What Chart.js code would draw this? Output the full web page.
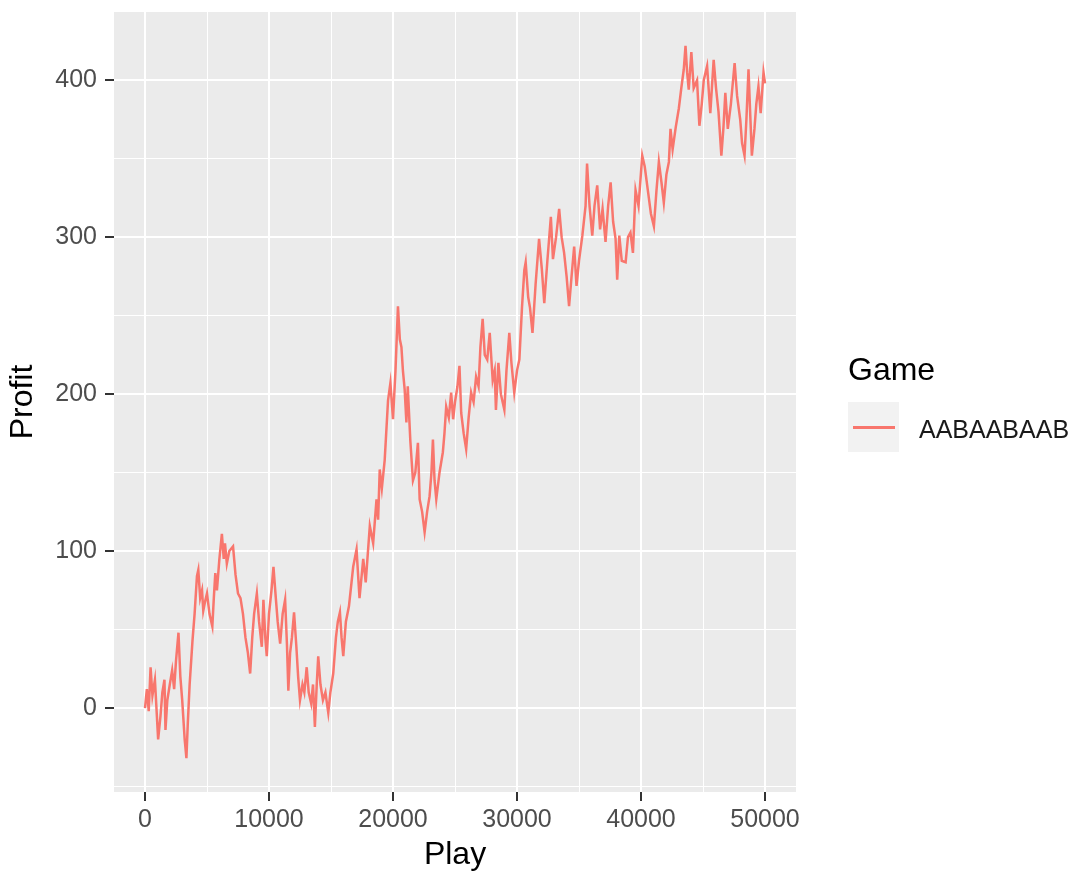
<!DOCTYPE html>
<html>
<head>
<meta charset="utf-8">
<script src="https://cdn.jsdelivr.net/npm/chart.js@4"></script>
<style>
  html, body { margin: 0; padding: 0; background: #ffffff; }
  #wrap { position: relative; width: 1084px; height: 873px; font-family: "Liberation Sans", Arial, Helvetica, sans-serif; }
  #c { position: absolute; left: 0; top: 0; }
  .lg-title { position: absolute; left: 848px; top: 353px; font-size: 32px; line-height: 32px; color: #000; white-space: nowrap; }
  .lg-key { position: absolute; left: 848px; top: 402px; width: 51px; height: 50px; background: #F2F2F2; }
  .lg-line { position: absolute; left: 5px; top: 24px; width: 42px; height: 3px; background: #F8766D; }
  .lg-label { position: absolute; left: 919px; top: 417px; font-size: 25px; line-height: 25px; color: #1a1a1a; white-space: nowrap; }
</style>
</head>
<body>
<div id="wrap">
  <canvas id="c" width="1084" height="873"></canvas>
  <div class="lg-title" id="lgTitle"></div>
  <div class="lg-key"><div class="lg-line"></div></div>
  <div class="lg-label" id="lgLabel"></div>
</div>
<script>
// ---- Data ----
const seriesName = "AABAABAAB";
const legendTitle = "Game";
const xTitle = "Play";
const yTitle = "Profit";

const plays = [
  0,150,300,450,600,800,1060,1250,1400,1570,1650,1800,2000,2190,2350,2500,2700,2850,3000,3200,
  3340,3450,3600,3830,4000,4190,4300,4450,4600,4700,4850,5000,5200,5430,5550,5670,5800,6000,6200,6350,
  6450,6600,6800,7100,7300,7500,7700,7900,8100,8300,8480,8650,8800,9020,9200,9420,9550,9700,9820,10000,
  10200,10360,10550,10700,10900,11100,11300,11450,11560,11700,11850,12020,12200,12350,12500,12700,12850,13040,13200,13400,
  13550,13700,13850,13970,14150,14350,14550,14780,14950,15180,15400,15550,15720,15850,15990,16200,16450,16790,17060,17300,
  17600,17800,18130,18400,18670,18800,18930,19100,19330,19600,19790,20000,20200,20400,20550,20680,20800,20940,21080,21190,
  21400,21610,21800,22010,22150,22350,22550,22750,22950,23100,23220,23350,23490,23750,24020,24150,24290,24500,24690,24850,
  25000,25200,25360,25500,25700,25900,26100,26300,26500,26700,26900,27050,27230,27400,27600,27800,28040,28200,28300,28500,
  28700,28980,29150,29380,29550,29780,30000,30190,30400,30590,30700,30900,31050,31250,31500,31780,32000,32200,32450,32730,
  32900,33150,33400,33600,33800,34000,34200,34400,34610,34800,35000,35270,35530,35650,35850,36070,36250,36470,36700,36900,
  37140,37350,37550,37750,37950,38080,38250,38450,38760,38950,39150,39350,39560,39800,40100,40300,40550,40800,41040,41250,
  41440,41650,41840,42050,42250,42380,42550,42800,43050,43250,43450,43590,43720,43850,44060,44250,44520,44710,44900,45060,
  45330,45590,45860,46050,46250,46480,46650,46800,47000,47250,47550,47750,48000,48150,48350,48500,48670,48800,48940,49150,
  49300,49470,49650,49880,50000
];

const profit = [
  0,12,-2,26,8,18,-20,-5,10,18,-14,5,15,24,12,30,48,20,5,-20,
  -32,-10,15,43,60,84,88,70,75,62,68,73,60,52,70,86,75,95,111,95,
  105,92,100,103,85,73,70,60,45,35,22,45,60,73,55,39,69,45,33,60,
  75,90,70,55,41,60,69,40,11,35,45,61,40,20,5,15,10,26,10,3,
  15,-12,15,33,15,5,10,-3,10,22,45,55,61,45,33,55,65,90,101,70,
  95,80,116,105,133,120,152,140,158,196,207,184,215,256,235,230,215,203,182,205,
  170,145,150,169,133,125,112,125,135,150,171,145,133,150,163,175,192,185,201,184,
  195,205,218,188,175,165,185,201,195,211,205,230,248,225,222,239,209,215,190,220,
  200,190,215,239,220,201,215,222,255,279,284,262,255,239,270,299,280,258,285,313,
  286,300,318,300,290,275,256,275,294,269,285,301,320,347,320,301,320,333,305,318,
  297,320,335,310,299,273,301,285,284,300,303,290,330,320,352,345,330,315,307,330,
  348,335,322,340,348,369,356,370,382,395,407,422,405,394,418,395,400,371,385,400,
  409,379,413,395,380,352,370,392,369,385,411,390,375,360,352,375,407,380,352,369,
  385,396,379,405,398
];

// axis ranges and ticks
const xRange = [-2500, 52500];
const yRange = [-53.5, 443.5];
const xTickValues = [0, 5000, 10000, 15000, 20000, 25000, 30000, 35000, 40000, 45000, 50000];
const xMajorTicks = [0, 10000, 20000, 30000, 40000, 50000];
const yTickValues = [-50, 0, 50, 100, 150, 200, 250, 300, 350, 400];
const yMajorTicks = [0, 100, 200, 300, 400];

document.getElementById('lgTitle').textContent = legendTitle;
document.getElementById('lgLabel').textContent = seriesName;

const points = plays.map((p, i) => ({ x: p, y: profit[i] }));

const panelBg = {
  id: 'panelBg',
  beforeDraw(chart) {
    const { ctx, chartArea: a } = chart;
    ctx.save();
    ctx.fillStyle = '#EBEBEB';
    ctx.fillRect(a.left, a.top, a.right - a.left, a.bottom - a.top);
    ctx.restore();
  }
};

const tickFont = { family: '"Liberation Sans", Arial, Helvetica, sans-serif', size: 25 };
const titleFont = { family: '"Liberation Sans", Arial, Helvetica, sans-serif', size: 32, lineHeight: 1.1 };

function isMajor(list, v) { return list.indexOf(v) !== -1; }

new Chart(document.getElementById('c'), {
  type: 'line',
  data: {
    datasets: [{
      label: seriesName,
      data: points,
      borderColor: '#F8766D',
      backgroundColor: '#F8766D',
      borderWidth: 2.5,
      pointRadius: 0,
      tension: 0,
      fill: false
    }]
  },
  options: {
    responsive: false,
    animation: false,
    devicePixelRatio: 1,
    layout: { padding: { top: 12, right: 288, bottom: 0, left: 0 } },
    plugins: { legend: { display: false }, tooltip: { enabled: false } },
    scales: {
      x: {
        type: 'linear',
        position: 'bottom',
        min: xRange[0],
        max: xRange[1],
        afterBuildTicks: (s) => { s.ticks = xTickValues.map(v => ({ value: v })); },
        afterFit: (s) => { s.height = 81; s.paddingLeft = 0; s.paddingRight = 0; },
        border: { display: false },
        grid: {
          color: '#FFFFFF',
          lineWidth: (c) => isMajor(xMajorTicks, c.tick && c.tick.value) ? 2 : 1,
          drawTicks: true,
          tickLength: 9,
          tickWidth: 2,
          tickColor: (c) => isMajor(xMajorTicks, c.tick && c.tick.value) ? '#333333' : 'rgba(0,0,0,0)'
        },
        ticks: {
          autoSkip: false,
          maxRotation: 0,
          padding: 4,
          color: '#4D4D4D',
          font: tickFont,
          callback: (v) => isMajor(xMajorTicks, v) ? String(v) : ''
        },
        title: { display: true, text: xTitle, color: '#000000', font: titleFont, padding: { top: 0, bottom: 0 } }
      },
      y: {
        type: 'linear',
        position: 'left',
        min: yRange[0],
        max: yRange[1],
        afterBuildTicks: (s) => { s.ticks = yTickValues.map(v => ({ value: v })); },
        afterFit: (s) => { s.width = 114; s.paddingTop = 0; s.paddingBottom = 0; },
        border: { display: false },
        grid: {
          color: '#FFFFFF',
          lineWidth: (c) => isMajor(yMajorTicks, c.tick && c.tick.value) ? 2 : 1,
          drawTicks: true,
          tickLength: 9,
          tickWidth: 2,
          tickColor: (c) => isMajor(yMajorTicks, c.tick && c.tick.value) ? '#333333' : 'rgba(0,0,0,0)'
        },
        ticks: {
          autoSkip: false,
          padding: 8,
          color: '#4D4D4D',
          font: tickFont,
          callback: (v) => isMajor(yMajorTicks, v) ? String(v) : ''
        },
        title: { display: true, text: yTitle, color: '#000000', font: titleFont, padding: { top: 6, bottom: 0 } }
      }
    }
  },
  plugins: [panelBg]
});
</script>
</body>
</html>
